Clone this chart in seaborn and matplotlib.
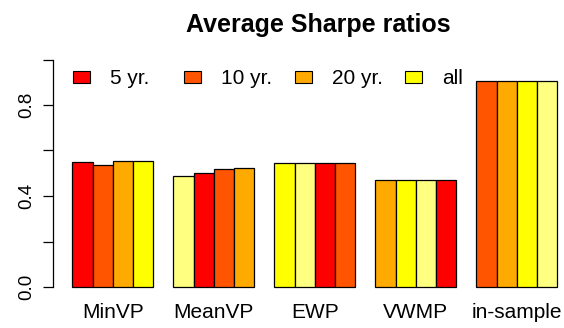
import pandas as pd
import numpy as np
import matplotlib
matplotlib.use("Agg")
import matplotlib.pyplot as plt
import seaborn as sns
from matplotlib.patches import Patch

sns.set_theme(style="white")
plt.rcParams["font.family"] = ["Liberation Sans", "DejaVu Sans"]
plt.rcParams["text.color"] = "black"
plt.rcParams["xtick.color"] = "black"
plt.rcParams["ytick.color"] = "black"

# --- Daten ---
methods    = ["MinVP", "MeanVP", "EWP", "VWMP", "in-sample"]
horizons   = ["5 yr.", "10 yr.", "20 yr.", "all"]
sharpe_5   = [0.548, 0.488, 0.546, 0.469, 0.904]
sharpe_10  = [0.535, 0.501, 0.546, 0.469, 0.904]
sharpe_20  = [0.554, 0.519, 0.546, 0.469, 0.904]
sharpe_all = [0.552, 0.524, 0.546, 0.469, 0.904]

# R heat.colors(5), wird ueber alle Balken recycelt
heat = ["#FF0000", "#FF5500", "#FFAA00", "#FFFF00", "#FFFF80"]

df = pd.DataFrame({
    "method":  np.repeat(methods, 4),
    "horizon": horizons * len(methods),
    "sharpe":  np.ravel(np.column_stack([sharpe_5, sharpe_10, sharpe_20, sharpe_all])),
})

# --- Plot ---
W, H = 564, 328
fig = plt.figure(figsize=(W / 100, H / 100), dpi=100)
ax_l, ax_r, ax_b, ax_t = 53, 564, 300, 40
ax = fig.add_axes([ax_l / W, 1 - ax_b / H, (ax_r - ax_l) / W, (ax_b - ax_t) / H])

sns.barplot(data=df, x="method", y="sharpe", hue="horizon", order=methods,
            hue_order=horizons, width=0.8, legend=False, errorbar=None,
            edgecolor="black", linewidth=0.9, ax=ax)

for j, cont in enumerate(ax.containers):
    for i, bar in enumerate(cont):
        bar.set_facecolor(heat[(i * 4 + j) % 5])

# Achsen in Pixel-Geometrie wie im Original
x0, xunit = 112.7, 101.0
ax.set_xlim((ax_l - x0) / xunit, (ax_r - x0) / xunit)
y0, yunit = 287.0, 227.5
ax.set_ylim((y0 - ax_b) / yunit, (y0 - ax_t) / yunit)

for s in ["top", "right", "bottom"]:
    ax.spines[s].set_visible(False)
ax.spines["left"].set_bounds(0, 1)
ax.spines["left"].set_color("black")
ax.spines["left"].set_linewidth(0.9)

ax.set_yticks(np.arange(0, 1.01, 0.2))
ax.set_yticklabels(["0.0", "", "0.4", "", "0.8", ""], rotation=90, va="center")
ax.tick_params(axis="y", length=7, width=0.9, color="black", labelsize=13.5, pad=6,
               left=True)
ax.tick_params(axis="x", length=0, labelsize=15, pad=2)
ax.set_xlabel("")
ax.set_ylabel("")
ax.set_facecolor("white")

fig.text(318.5 / W, 1 - 32 / H, "Average Sharpe ratios", fontsize=18,
         fontweight="bold", ha="center", va="baseline")

# Legende: gleichmaessige Abstaende wie in R (horiz=TRUE)
leg_x = [73, 184, 295, 405]
for k, lab in enumerate(horizons):
    h = Patch(facecolor=heat[k], edgecolor="black", linewidth=0.8)
    fig.legend([h], [lab], loc="center left", frameon=False, fontsize=15,
               bbox_to_anchor=(leg_x[k] / W, 1 - 79 / H),
               bbox_transform=fig.transFigure, borderpad=0, borderaxespad=0,
               handlelength=0.82, handleheight=0.48, handletextpad=0.96)

plt.savefig("out.png", dpi=100)
